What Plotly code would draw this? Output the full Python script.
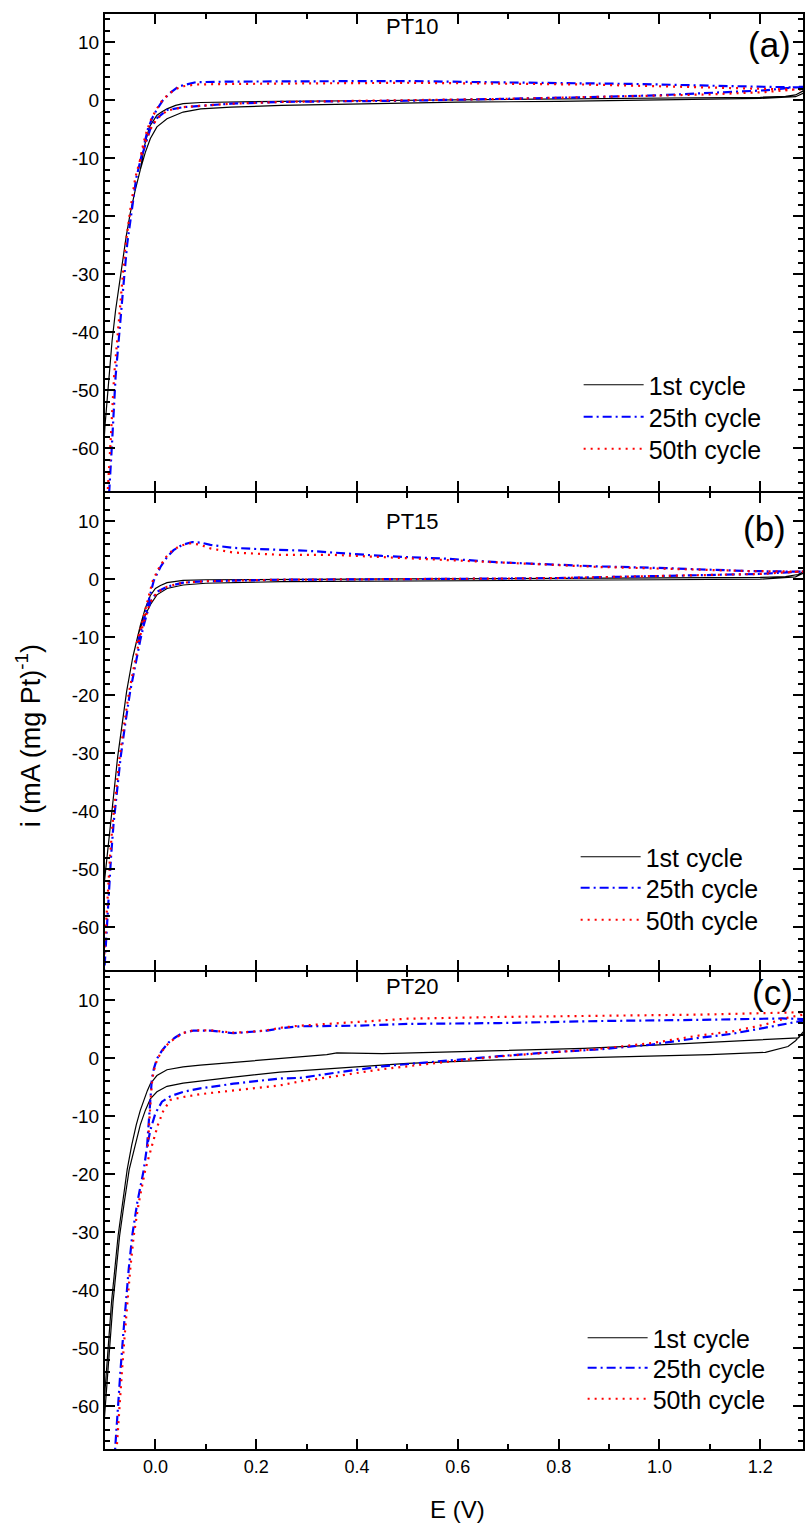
import plotly.graph_objects as go
from plotly.subplots import make_subplots

# ---------------- data ----------------
# Panel (a) PT10
A1_UP_E = [-0.03, -0.022, -0.012, 0.003, 0.013, 0.023, 0.04, 0.055, 0.09, 0.15, 0.25, 0.4, 0.55, 0.7, 0.85, 1.0, 1.1, 1.2, 1.25, 1.27, 1.285, 1.3]
A1_UP_I = [-12.0, -8.0, -4.6, -2.6, -2.0, -1.5, -0.9, -0.6, -0.4, -0.3, -0.2, -0.1, 0.0, 0.1, 0.2, 0.3, 0.4, 0.5, 0.65, 0.9, 1.6, 3.0]
A1_DN_E = [1.3, 1.285, 1.27, 1.2, 1.0, 0.8, 0.6, 0.4, 0.25, 0.15, 0.09, 0.055, 0.023, 0.003, -0.01, -0.02, -0.03, -0.04, -0.05, -0.058, -0.065, -0.072, -0.079, -0.086, -0.092, -0.097, -0.1, -0.104]
A1_DN_I = [3.0, 1.2, 0.6, 0.3, 0.0, -0.2, -0.35, -0.6, -0.9, -1.2, -1.5, -2.05, -3.2, -4.6, -6.6, -9.0, -12.0, -15.5, -19.5, -23.5, -27.5, -32.0, -36.2, -41.5, -47.6, -52.5, -56.1, -62.0]

A2_UP_E = [-0.03, -0.022, -0.015, -0.007, 0.003, 0.015, 0.03, 0.045, 0.056, 0.08, 0.15, 0.3, 0.5, 0.65, 0.8, 0.95, 1.1, 1.2, 1.27, 1.3]
A2_UP_I = [-10.5, -7.5, -5.0, -3.2, -1.6, 0.0, 1.3, 2.3, 2.6, 3.1, 3.2, 3.25, 3.3, 3.1, 3.0, 2.8, 2.5, 2.3, 2.2, 2.3]
A2_DN_E = [1.3, 1.276, 1.21, 1.1, 1.0, 0.85, 0.68, 0.5, 0.35, 0.25, 0.15, 0.09, 0.055, 0.023, 0.003, -0.01, -0.02, -0.03, -0.038, -0.047, -0.056, -0.062, -0.068, -0.074, -0.079, -0.086, -0.091, -0.094]
A2_DN_I = [2.3, 2.3, 1.7, 1.2, 0.85, 0.5, 0.2, -0.1, -0.2, -0.3, -0.6, -0.9, -1.2, -1.7, -3.1, -4.9, -7.5, -10.5, -13.4, -19.0, -24.8, -30.5, -36.2, -42.0, -47.6, -59.0, -66.5, -71.0]

A3_UP_E = [-0.031, -0.024, -0.016, -0.008, 0.002, 0.014, 0.028, 0.043, 0.056, 0.08, 0.15, 0.3, 0.5, 0.68, 0.85, 1.0, 1.15, 1.276, 1.3]
A3_UP_I = [-10.5, -7.5, -5.0, -3.2, -1.6, 0.0, 1.2, 2.0, 2.4, 2.7, 2.8, 2.85, 3.0, 2.85, 2.7, 2.4, 2.1, 1.8, 2.0]
A3_DN_E = [1.3, 1.276, 1.21, 1.1, 1.0, 0.85, 0.68, 0.5, 0.35, 0.25, 0.15, 0.09, 0.055, 0.023, 0.003, -0.01, -0.021, -0.031, -0.04, -0.05, -0.059, -0.065, -0.071, -0.077, -0.082, -0.089, -0.094, -0.097]
A3_DN_I = [2.0, 1.9, 1.4, 1.0, 0.8, 0.5, 0.2, 0.0, -0.2, -0.3, -0.6, -0.9, -1.2, -1.8, -3.2, -5.0, -7.5, -10.5, -13.4, -19.0, -24.8, -30.5, -36.2, -42.0, -47.6, -59.0, -66.5, -71.0]

# Panel (b) PT15
B1_UP_E = [-0.045, -0.038, -0.03, -0.02, -0.01, 0.0, 0.01, 0.023, 0.04, 0.055, 0.1, 0.25, 0.5, 0.7, 0.9, 1.1, 1.2, 1.25, 1.275, 1.29, 1.3]
B1_UP_I = [-13.5, -11.0, -8.0, -5.0, -2.8, -1.6, -1.1, -0.6, -0.35, -0.2, -0.1, 0.0, 0.05, 0.1, 0.15, 0.25, 0.3, 0.45, 0.8, 1.5, 2.5]
B1_DN_E = [1.3, 1.285, 1.27, 1.2, 1.0, 0.68, 0.45, 0.25, 0.1, 0.055, 0.023, 0.003, -0.01, -0.023, -0.034, -0.045, -0.057, -0.066, -0.075, -0.082, -0.089, -0.096, -0.101, -0.104]
B1_DN_I = [2.5, 1.0, 0.4, 0.0, -0.1, -0.2, -0.3, -0.43, -0.7, -1.0, -1.6, -2.7, -4.4, -6.7, -9.5, -13.5, -19.3, -25.0, -30.7, -36.5, -42.1, -47.8, -52.0, -56.0]

B2_UP_E = [-0.035, -0.027, -0.02, -0.012, -0.003, 0.01, 0.023, 0.036, 0.053, 0.073, 0.09, 0.109, 0.154, 0.2, 0.247, 0.3, 0.45, 0.584, 0.682, 0.88, 1.013, 1.177, 1.276, 1.3]
B2_UP_I = [-11.0, -8.5, -6.0, -3.2, -0.2, 2.1, 3.8, 5.0, 5.9, 6.4, 6.3, 5.9, 5.4, 5.2, 5.0, 4.9, 4.0, 3.5, 2.9, 2.2, 1.9, 1.4, 1.3, 1.3]
B2_DN_E = [1.3, 1.276, 1.2, 1.0, 0.8, 0.68, 0.45, 0.247, 0.1, 0.055, 0.023, 0.003, -0.01, -0.02, -0.023, -0.03, -0.037, -0.05, -0.06, -0.069, -0.076, -0.083, -0.088, -0.092, -0.096, -0.1, -0.103]
B2_DN_I = [1.3, 1.3, 0.9, 0.5, 0.2, 0.1, 0.0, -0.1, -0.35, -0.6, -1.3, -2.2, -3.9, -6.8, -7.9, -10.5, -13.6, -19.3, -25.0, -30.7, -36.4, -42.1, -47.8, -53.6, -59.0, -65.0, -70.0]

B3_UP_E = [-0.037, -0.029, -0.022, -0.014, -0.005, 0.008, 0.021, 0.034, 0.051, 0.071, 0.09, 0.109, 0.154, 0.2, 0.247, 0.35, 0.45, 0.584, 0.682, 0.88, 1.013, 1.177, 1.276, 1.3]
B3_UP_I = [-11.0, -8.5, -6.0, -3.2, -0.2, 2.1, 3.8, 5.0, 5.8, 6.2, 5.9, 5.3, 4.6, 4.4, 4.2, 4.2, 3.8, 3.2, 2.8, 2.1, 1.8, 1.4, 1.3, 1.3]
B3_DN_E = [1.3, 1.276, 1.2, 1.0, 0.8, 0.68, 0.45, 0.247, 0.1, 0.055, 0.023, 0.003, -0.01, -0.021, -0.025, -0.032, -0.039, -0.052, -0.062, -0.071, -0.078, -0.085, -0.09, -0.094, -0.098, -0.102, -0.105]
B3_DN_I = [1.3, 1.3, 0.9, 0.5, 0.2, 0.1, 0.0, -0.1, -0.35, -0.6, -1.3, -2.3, -4.0, -6.8, -7.9, -10.5, -13.6, -19.3, -25.0, -30.7, -36.4, -42.1, -47.8, -53.6, -59.0, -65.0, -70.0]

# Panel (c) PT20
C1_UP_E = [-0.104, -0.097, -0.087, -0.074, -0.065, -0.056, -0.047, -0.038, -0.03, -0.023, -0.016, -0.01, 0.003, 0.023, 0.055, 0.089, 0.155, 0.247, 0.3, 0.34, 0.36, 0.45, 0.55, 0.68, 0.85, 0.98, 1.1, 1.21, 1.276, 1.29, 1.3]
C1_UP_I = [-62.0, -53.5, -42.0, -30.6, -24.5, -19.2, -15.0, -11.5, -9.0, -7.2, -5.6, -4.4, -3.0, -2.0, -1.5, -1.2, -0.7, 0.0, 0.35, 0.6, 0.9, 0.8, 1.0, 1.3, 1.7, 2.2, 2.7, 3.2, 3.5, 5.0, 7.0]
C1_DN_E = [1.3, 1.29, 1.27, 1.255, 1.21, 1.1, 0.98, 0.85, 0.68, 0.5, 0.4, 0.287, 0.247, 0.155, 0.089, 0.055, 0.023, 0.003, -0.01, -0.02, -0.03, -0.04, -0.052, -0.062, -0.071, -0.084, -0.094, -0.099, -0.102]
C1_DN_I = [7.0, 5.0, 3.0, 2.0, 1.0, 0.6, 0.35, 0.1, -0.3, -0.9, -1.5, -2.2, -2.4, -3.25, -3.9, -4.3, -4.85, -5.8, -7.0, -9.0, -11.5, -15.0, -19.2, -25.0, -30.6, -42.0, -53.5, -59.2, -63.0]

C2_UP_E = [-0.0166, -0.013, -0.01, -0.007, -0.003, 0.003, 0.013, 0.026, 0.04, 0.053, 0.075, 0.109, 0.155, 0.181, 0.221, 0.253, 0.287, 0.4, 0.5, 0.682, 0.88, 1.078, 1.243, 1.3]
C2_UP_I = [-15.2, -10.5, -6.5, -3.5, -1.8, -0.1, 1.3, 2.7, 3.6, 4.3, 4.75, 4.75, 4.3, 4.5, 4.75, 5.2, 5.5, 5.6, 5.9, 6.05, 6.4, 6.6, 6.85, 6.7]
C2_DN_E = [1.3, 1.276, 1.21, 1.144, 1.078, 0.985, 0.88, 0.78, 0.682, 0.55, 0.45, 0.35, 0.287, 0.247, 0.155, 0.089, 0.055, 0.03, 0.013, 0.0, -0.01, -0.0166, -0.023, -0.036, -0.046, -0.053, -0.059, -0.064, -0.069, -0.074, -0.078, -0.082]
C2_DN_I = [6.7, 6.3, 5.2, 4.2, 3.5, 2.35, 1.5, 1.0, 0.35, -0.6, -1.4, -2.6, -3.4, -3.5, -4.4, -5.2, -5.8, -6.55, -7.5, -9.5, -12.4, -15.2, -19.2, -24.9, -30.6, -36.4, -42.0, -47.8, -53.5, -59.2, -64.9, -70.0]

C3_UP_E = [-0.015, -0.012, -0.009, -0.006, -0.002, 0.004, 0.014, 0.027, 0.041, 0.054, 0.075, 0.109, 0.155, 0.181, 0.221, 0.253, 0.287, 0.4, 0.5, 0.682, 0.88, 1.078, 1.276, 1.3]
C3_UP_I = [-15.2, -10.5, -6.5, -3.5, -1.8, -0.1, 1.3, 2.7, 3.6, 4.3, 4.8, 4.8, 4.4, 4.5, 4.8, 5.3, 5.6, 6.3, 6.8, 7.1, 7.3, 7.5, 7.9, 7.9]
C3_DN_E = [1.3, 1.285, 1.255, 1.21, 1.144, 1.078, 0.985, 0.88, 0.78, 0.682, 0.55, 0.45, 0.35, 0.287, 0.247, 0.155, 0.089, 0.055, 0.03, 0.016, 0.005, -0.005, -0.013, -0.02, -0.033, -0.043, -0.05, -0.056, -0.061, -0.066, -0.071, -0.075, -0.079]
C3_DN_I = [7.9, 7.5, 7.0, 5.8, 4.6, 3.9, 2.6, 1.6, 1.0, 0.3, -0.9, -1.9, -3.2, -4.0, -4.7, -5.5, -6.2, -6.7, -7.2, -9.0, -11.5, -14.5, -17.0, -19.2, -24.9, -30.6, -36.4, -42.0, -47.8, -53.5, -59.2, -64.9, -70.0]

CYCLE_NAMES = ["1st cycle", "25th cycle", "50th cycle"]
SAMPLE_NAMES = ["PT10", "PT15", "PT20"]
PANEL_TAGS = ["(a)", "(b)", "(c)"]
X_TICKS = [0.0, 0.2, 0.4, 0.6, 0.8, 1.0, 1.2]
X_TICK_LABELS = ["0.0", "0.2", "0.4", "0.6", "0.8", "1.0", "1.2"]
Y_TICKS = [-60, -50, -40, -30, -20, -10, 0, 10]
Y_TICK_LABELS = ["-60", "-50", "-40", "-30", "-20", "-10", "0", "10"]

PANELS = [
    [(A1_UP_E, A1_UP_I, A1_DN_E, A1_DN_I), (A2_UP_E, A2_UP_I, A2_DN_E, A2_DN_I), (A3_UP_E, A3_UP_I, A3_DN_E, A3_DN_I)],
    [(B1_UP_E, B1_UP_I, B1_DN_E, B1_DN_I), (B2_UP_E, B2_UP_I, B2_DN_E, B2_DN_I), (B3_UP_E, B3_UP_I, B3_DN_E, B3_DN_I)],
    [(C1_UP_E, C1_UP_I, C1_DN_E, C1_DN_I), (C2_UP_E, C2_UP_I, C2_DN_E, C2_DN_I), (C3_UP_E, C3_UP_I, C3_DN_E, C3_DN_I)],
]

# ---------------- styling ----------------
W, H = 805, 1525
ML, MR, MT, MB = 105, 0, 14, 76
PW, PH = W - ML - MR, H - MT - MB
PANEL_H = 477
GAP = 2
FONT = "Arial, Liberation Sans, Helvetica, sans-serif"
STYLES = [
    dict(color="black", width=1.2, dash="solid"),
    dict(color="#0000ff", width=2.2, dash="9px,4px,2px,4px"),
    dict(color="#ff0000", width=2.2, dash="2px,5px"),
]
X_RANGE = [-0.1, -0.1 + PW / 505.5]
Y_RANGE = [-67.35, 14.85]

# legend rows (pixel centres) and left edges of each panel's legend
LEGEND_ROWS = [[385, 417, 449], [857, 888, 920], [1338, 1368, 1399]]
LEGEND_LEFT = [580, 577, 584]

def px_x(px):
    return (px - ML) / PW

def px_y(py):
    return (H - MB - py) / PH

fig = make_subplots(rows=3, cols=1, shared_xaxes=True, vertical_spacing=0)

n = 0
for p, curves in enumerate(PANELS):
    for c, (ue, ui, de, di) in enumerate(curves):
        n += 1
        lname = "legend" if n == 1 else "legend%d" % n
        fig.add_trace(
            go.Scatter(
                x=list(ue) + list(de), y=list(ui) + list(di), mode="lines",
                line=STYLES[c], name=CYCLE_NAMES[c], legend=lname,
                showlegend=True, hoverinfo="skip",
            ),
            row=p + 1, col=1,
        )
        fig.update_layout(**{lname: dict(
            x=px_x(LEGEND_LEFT[p]), y=px_y(LEGEND_ROWS[p][c]), xanchor="left", yanchor="middle",
            font=dict(family=FONT, size=25, color="black"), bgcolor="rgba(0,0,0,0)",
            borderwidth=0, itemwidth=60, tracegroupgap=0,
        )})

axis_common = dict(
    showline=True, linewidth=2, linecolor="black", mirror="ticks",
    ticks="inside", ticklen=10, tickwidth=2, tickcolor="black",
    showgrid=False, zeroline=False,
)
for r in range(1, 4):
    k = 3 - r  # 0 for bottom panel
    lo = k * (PANEL_H + GAP) / PH
    hi = (k * (PANEL_H + GAP) + PANEL_H) / PH
    fig.update_xaxes(
        range=X_RANGE, tickmode="array", tickvals=X_TICKS, ticktext=X_TICK_LABELS,
        minor=dict(ticks="inside", ticklen=5, tickwidth=2, tickcolor="black", tickmode="linear", tick0=0, dtick=0.1),
        showticklabels=(r == 3), tickfont=dict(family=FONT, size=18, color="black"),
        row=r, col=1, **axis_common,
    )
    fig.update_yaxes(
        range=Y_RANGE, domain=[lo, min(hi, 1.0)], tickmode="array", tickvals=Y_TICKS, ticktext=Y_TICK_LABELS,
        minor=dict(ticks="inside", ticklen=5, tickwidth=2, tickcolor="black", tickmode="linear", tick0=0, dtick=2),
        tickfont=dict(family=FONT, size=19, color="black"),
        row=r, col=1, **axis_common,
    )

annotations = []
label_y = [27, 521, 987]
tag_pos = [(795, 45), (790, 528), (797, 992)]
for p in range(3):
    annotations.append(dict(text=SAMPLE_NAMES[p], x=px_x(413), y=px_y(label_y[p]), xref="paper", yref="paper",
                            showarrow=False, xanchor="center", yanchor="middle",
                            font=dict(family=FONT, size=22, color="black")))
    annotations.append(dict(text=PANEL_TAGS[p], x=px_x(tag_pos[p][0]), y=px_y(tag_pos[p][1]), xref="paper", yref="paper",
                            showarrow=False, xanchor="right", yanchor="middle",
                            font=dict(family=FONT, size=35, color="black")))
annotations.append(dict(text="E (V)", x=px_x(459), y=px_y(1509), xref="paper", yref="paper",
                        showarrow=False, xanchor="center", yanchor="middle",
                        font=dict(family=FONT, size=24, color="black")))
annotations.append(dict(text="i (mA (mg Pt)<sup>-1</sup>)", x=px_x(28), y=px_y(736), xref="paper", yref="paper",
                        showarrow=False, xanchor="center", yanchor="middle", textangle=-90,
                        font=dict(family=FONT, size=27, color="black")))

fig.update_layout(
    width=W, height=H, margin=dict(l=ML, r=MR, t=MT, b=MB),
    paper_bgcolor="white", plot_bgcolor="white", annotations=annotations,
    font=dict(family=FONT, color="black"),
)

fig.write_html("out.html")
